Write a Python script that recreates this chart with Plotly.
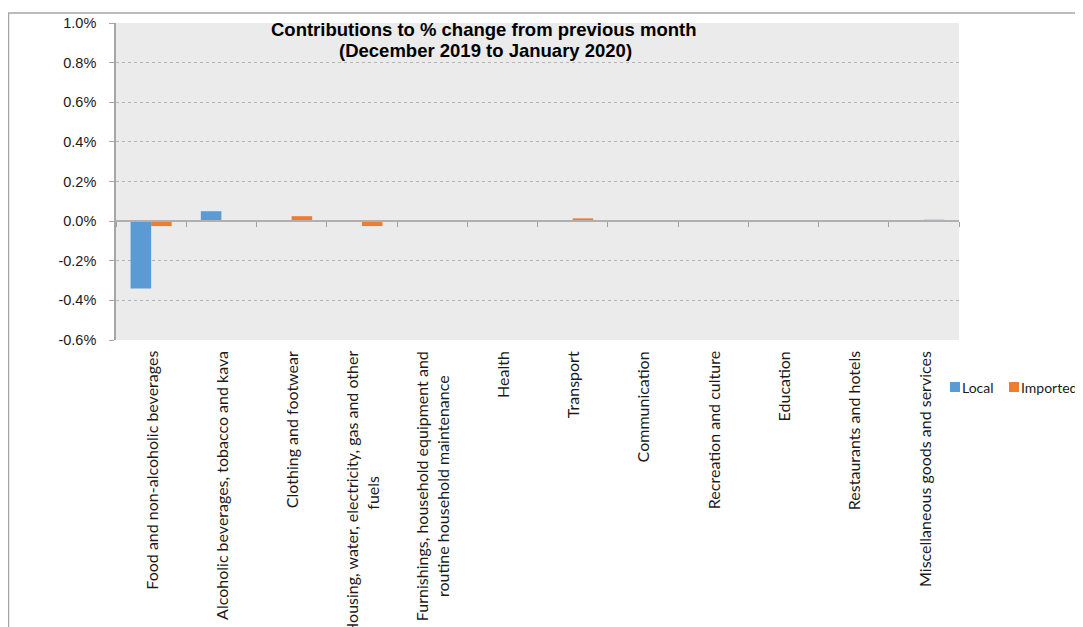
import plotly.graph_objects as go

categories = [
    "Food and non-alcoholic beverages",
    "Alcoholic beverages, tobacco and kava",
    "Clothing and footwear",
    "Housing, water, electricity, gas and other<br>fuels",
    "Furnishings, household equipment and<br>routine household maintenance",
    "Health",
    "Transport",
    "Communication",
    "Recreation and culture",
    "Education",
    "Restaurants and hotels",
    "Miscellaneous goods and services",
]
series_names = ["Local", "Imported"]
series_colors = ["#5b9bd5", "#ed7d31"]
local_vals = [-0.34, 0.05, 0.0, 0.0, 0.0, 0.0, 0.0, 0.0, 0.0, 0.0, 0.0, 0.0]
imported_vals = [-0.025, 0.0, 0.025, -0.025, 0.002, 0.0, 0.014, 0.0, 0.0, 0.0, 0.0, 0.007]
y_ticks = [-0.6, -0.4, -0.2, 0.0, 0.2, 0.4, 0.6, 0.8, 1.0]
y_tick_labels = ["-0.6%", "-0.4%", "-0.2%", "0.0%", "0.2%", "0.4%", "0.6%", "0.8%", "1.0%"]

title_lines = ["Contributions to % change from previous month", "(December 2019 to January 2020)"]

x_keys = [f"c{i}" for i in range(len(categories))]

fig = go.Figure()
for name, color, vals in zip(series_names, series_colors, [local_vals, imported_vals]):
    fig.add_bar(x=x_keys, y=[v / 100 for v in vals], name=name, marker_color=color,
                marker_line_width=0)

W, H = 1075, 619
L, T = 108, 15
pw, ph = 843, 317
R, B = W - L - pw, H - T - ph
zero_pos = 0.6 / 1.6

def px_x(px):
    return (px - L) / pw

def px_y(py):
    return (T + ph - py) / ph

fig.update_layout(
    width=W, height=H,
    margin=dict(l=L, r=R, t=T, b=B, autoexpand=False),
    paper_bgcolor="white",
    plot_bgcolor="rgb(235,235,235)",
    barmode="group",
    bargap=0.415,
    bargroupgap=0,
    font=dict(family="Liberation Sans, Arial", size=13, color="#1a1a1a"),
    showlegend=False,
    xaxis=dict(
        type="category", anchor="free", position=zero_pos,
        showline=True, linecolor="#b0b0b0", linewidth=2,
        ticks="outside", tickson="boundaries", ticklen=5, tickcolor="#a0a0a0",
        showticklabels=False, showgrid=False, zeroline=False,
        range=[-0.5, len(categories) - 0.5],
    ),
    yaxis=dict(
        range=[-0.006, 0.01], tickvals=[v / 100 for v in y_ticks], ticktext=y_tick_labels,
        showline=True, linecolor="#a6a6a6", linewidth=1.5,
        ticks="outside", ticklen=5, tickcolor="#a6a6a6",
        showgrid=True, gridcolor="#b4b4b4", griddash="dot", gridwidth=1,
        zeroline=False, ticklabelstandoff=10,
        tickfont=dict(family="Liberation Sans, Arial", size=14.5, color="#1a1a1a"),
    ),
)

annotations = []
for key, lab in zip(x_keys, categories):
    annotations.append(dict(
        x=key, xref="x", y=-9 / ph, yref="paper", text=lab, textangle=-90,
        showarrow=False, xanchor="center", yanchor="top", align="center",
        font=dict(family="Lato", size=16, color="#1a1a1a"),
    ))
for line, cx, cy in zip(title_lines, [476, 477], [22, 42]):
    annotations.append(dict(
        x=px_x(cx), xref="paper", y=px_y(cy), yref="paper",
        text="<b>" + line + "</b>",
        showarrow=False, xanchor="center", yanchor="middle", align="center",
        font=dict(family="Liberation Sans, Arial", size=18.5, color="#000000"),
    ))

# legend (custom, built from series names and colours)
legend_sq_x = [942, 1001]
legend_cy = 379
for name, color, sx in zip(series_names, series_colors, legend_sq_x):
    fig.add_shape(type="rect", xref="paper", yref="paper",
                  x0=px_x(sx), x1=px_x(sx + 10), y0=px_y(legend_cy + 5), y1=px_y(legend_cy - 5),
                  fillcolor=color, line=dict(width=0))
    annotations.append(dict(
        x=px_x(sx + 10), xref="paper", y=px_y(legend_cy), yref="paper", text=name,
        showarrow=False, xanchor="left", yanchor="middle",
        font=dict(family="Lato", size=14, color="#1a1a1a"),
    ))
fig.update_layout(annotations=annotations)

# chart-area border
fig.add_shape(type="line", xref="paper", yref="paper",
              x0=px_x(0), x1=px_x(W + 20), y0=px_y(5), y1=px_y(5),
              line=dict(color="#a6a6a6", width=1.5))
fig.add_shape(type="line", xref="paper", yref="paper",
              x0=px_x(0.5), x1=px_x(0.5), y0=px_y(5), y1=px_y(H + 20),
              line=dict(color="#a6a6a6", width=1.5))

fig.write_html("out.html")
